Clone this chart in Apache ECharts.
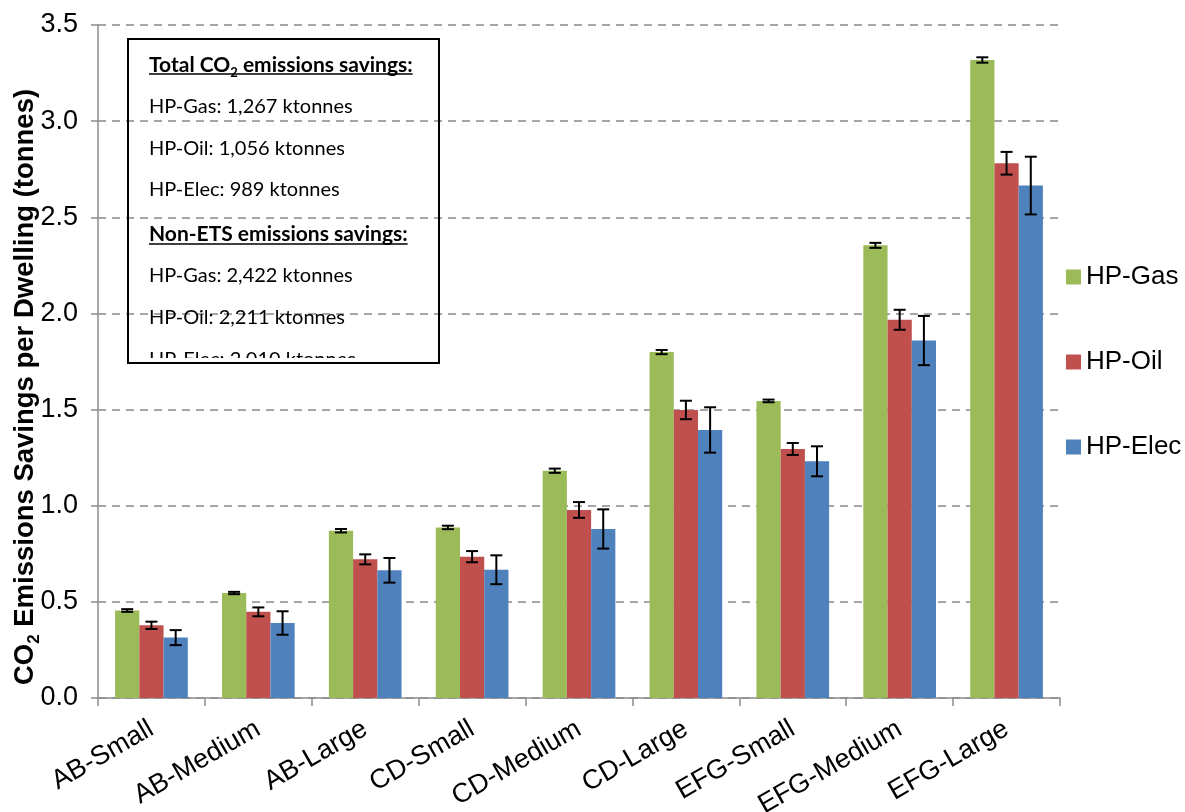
<!DOCTYPE html>
<html>
<head>
<meta charset="utf-8">
<script src="https://cdn.jsdelivr.net/npm/echarts@6/dist/echarts.min.js"></script>
<style>
  html, body { margin: 0; padding: 0; background: #ffffff; }
  #chart { width: 1185px; height: 812px; }
</style>
</head>
<body>
<div id="chart"></div>
<script>
// Dwelling categories on the x axis
const categories = ['AB-Small', 'AB-Medium', 'AB-Large', 'CD-Small', 'CD-Medium', 'CD-Large', 'EFG-Small', 'EFG-Medium', 'EFG-Large'];

// Mean CO2 savings per dwelling (tonnes) and their error half-widths
const gasValues  = [0.455, 0.546, 0.870, 0.887, 1.182, 1.799, 1.545, 2.354, 3.318];
const gasErrors  = [0.007, 0.006, 0.009, 0.009, 0.011, 0.011, 0.007, 0.013, 0.014];
const oilValues  = [0.378, 0.448, 0.721, 0.735, 0.978, 1.498, 1.295, 1.967, 2.781];
const oilErrors  = [0.019, 0.023, 0.026, 0.029, 0.041, 0.048, 0.031, 0.052, 0.059];
const elecValues = [0.314, 0.390, 0.664, 0.667, 0.879, 1.394, 1.231, 1.859, 2.665];
const elecErrors = [0.039, 0.061, 0.064, 0.075, 0.102, 0.118, 0.078, 0.128, 0.150];

const seriesNames = ['HP-Gas', 'HP-Oil', 'HP-Elec'];
const seriesColors = ['#9BBB59', '#C0504D', '#4F81BD'];

// Y axis range and tick step
const yMin = 0, yMax = 3.5, yStep = 0.5;

// Summary box text
const totalHeading = 'Total CO';
const totalHeadingTail = ' emissions savings:';
const totalSavings = ['HP-Gas: 1,267 ktonnes', 'HP-Oil: 1,056 ktonnes', 'HP-Elec: 989 ktonnes'];
const nonEtsHeading = 'Non-ETS emissions savings:';
const nonEtsSavings = ['HP-Gas: 2,422 ktonnes', 'HP-Oil: 2,211 ktonnes', 'HP-Elec: 2,010 ktonnes'];

const FONT = '"Liberation Sans", Arial, Helvetica, sans-serif';
const BOX_FONT = 'Lato, "Open Sans", sans-serif';
const CAT_GAP = 0.32;

const chart = echarts.init(document.getElementById('chart'), null, { renderer: 'canvas' });

// Measure text width for underlines in the summary box
const measureCtx = document.createElement('canvas').getContext('2d');
function textWidth(str, font) {
  measureCtx.font = font;
  return measureCtx.measureText(str).width;
}

function errorSeries(name, idx, values, errors) {
  return {
    type: 'custom',
    name: name + ' error',
    z: 10,
    silent: true,
    data: values.map((v, i) => [i, v, errors[i]]),
    encode: { x: 0, y: 1 },
    renderItem: function (params, api) {
      const i = api.value(0), v = api.value(1), e = api.value(2);
      const band = api.size([1, 0])[0];
      const bw = band * (1 - CAT_GAP) / 3;
      const cx = api.coord([i, v])[0] + (idx - 1) * bw;
      const yHi = api.coord([i, v + e])[1];
      const yLo = api.coord([i, v - e])[1];
      const half = 6;
      const style = { stroke: '#000000', lineWidth: 2 };
      return {
        type: 'group',
        children: [
          { type: 'line', shape: { x1: cx, y1: yHi, x2: cx, y2: yLo }, style: style },
          { type: 'line', shape: { x1: cx - half, y1: yHi, x2: cx + half, y2: yHi }, style: style },
          { type: 'line', shape: { x1: cx - half, y1: yLo, x2: cx + half, y2: yLo }, style: style }
        ]
      };
    }
  };
}

const valueSets = [gasValues, oilValues, elecValues];
const errorSets = [gasErrors, oilErrors, elecErrors];

const barSeries = seriesNames.map((name, k) => ({
  type: 'bar',
  name: name,
  data: valueSets[k],
  barGap: '0%',
  barCategoryGap: (CAT_GAP * 100) + '%',
  itemStyle: { color: seriesColors[k] },
  z: 2
}));
const errSeries = seriesNames.map((name, k) => errorSeries(name, k, valueSets[k], errorSets[k]));

// Summary box geometry
const box = { x: 128, y: 39, w: 311, h: 324 };
const textX = 149;
const lineYs = [64, 107, 149, 190, 234, 276, 318, 360];
const headFont = 'bold 21px ' + BOX_FONT;
const bodyFont = '20px ' + BOX_FONT;

const head1Width = textWidth(totalHeading, headFont) + textWidth('2', 'bold 13px ' + BOX_FONT) + textWidth(totalHeadingTail, headFont);
const head2Width = textWidth(nonEtsHeading, headFont);

const boxChildren = [
  { type: 'rect', shape: { x: box.x, y: box.y, width: box.w, height: box.h }, style: { fill: '#ffffff' }, z: 0 },
  {
    type: 'text', x: textX, y: lineYs[0], z: 1,
    style: {
      text: '{h|' + totalHeading + '}{s|2}{h|' + totalHeadingTail + '}',
      verticalAlign: 'middle', align: 'left',
      rich: {
        h: { fontFamily: BOX_FONT, fontSize: 21, fontWeight: 'bold', fill: '#000', lineHeight: 24, verticalAlign: 'bottom' },
        s: { fontFamily: BOX_FONT, fontSize: 13, fontWeight: 'bold', fill: '#000', lineHeight: 24, verticalAlign: 'bottom', padding: [0, 0, -3, 0] }
      }
    }
  },
  { type: 'line', z: 1, shape: { x1: textX, y1: lineYs[0] + 10, x2: textX + head1Width, y2: lineYs[0] + 10 }, style: { stroke: '#000', lineWidth: 1.5 } },
  { type: 'text', x: textX, y: lineYs[4], z: 1, style: { text: nonEtsHeading, font: headFont, fill: '#000', verticalAlign: 'middle' } },
  { type: 'line', z: 1, shape: { x1: textX, y1: lineYs[4] + 10, x2: textX + head2Width, y2: lineYs[4] + 10 }, style: { stroke: '#000', lineWidth: 1.5 } }
];
totalSavings.forEach((t, i) => boxChildren.push({ type: 'text', x: textX, y: lineYs[1 + i], z: 1, style: { text: t, font: bodyFont, fill: '#000', verticalAlign: 'middle' } }));
nonEtsSavings.forEach((t, i) => boxChildren.push({ type: 'text', x: textX, y: lineYs[5 + i], z: 1, style: { text: t, font: bodyFont, fill: '#000', verticalAlign: 'middle' } }));
// Text overflowing the box's inner margin is hidden, then the frame is drawn on top
boxChildren.push({ type: 'rect', z: 2, shape: { x: box.x - 2, y: box.y + box.h - 5, width: box.w + 4, height: 24 }, style: { fill: '#ffffff' } });
boxChildren.push({ type: 'rect', z: 3, shape: { x: box.x, y: box.y, width: box.w, height: box.h }, style: { fill: 'none', stroke: '#000', lineWidth: 2 } });

const option = {
  animation: false,
  backgroundColor: '#ffffff',
  textStyle: { fontFamily: FONT },
  grid: { left: 98, right: 125, top: 25, bottom: 114, containLabel: false, outerBoundsMode: 'none' },
  legend: {
    data: seriesNames,
    orient: 'vertical',
    left: 1066,
    top: 264,
    padding: 0,
    itemWidth: 15,
    itemHeight: 15,
    itemGap: 59,
    icon: 'rect',
    textStyle: { fontFamily: FONT, fontSize: 26, color: '#000' }
  },
  xAxis: {
    type: 'category',
    data: categories,
    axisLine: { lineStyle: { color: '#8c8c8c', width: 1.5 } },
    axisTick: { show: true, length: 8, lineStyle: { color: '#8c8c8c', width: 1.5 } },
    axisLabel: { interval: 0, rotate: 30, margin: 29, fontFamily: FONT, fontSize: 27, color: '#000' },
    splitLine: { show: false }
  },
  yAxis: {
    type: 'value',
    min: yMin, max: yMax, interval: yStep,
    axisLine: { show: true, lineStyle: { color: '#8c8c8c', width: 1.5 } },
    axisTick: { show: true, length: 7, lineStyle: { color: '#8c8c8c', width: 1.5 } },
    axisLabel: { margin: 20, fontFamily: FONT, fontSize: 27, color: '#000', formatter: v => v.toFixed(1) },
    splitLine: { show: true, lineStyle: { color: '#a6a6a6', width: 2, type: [8, 6] } }
  },
  graphic: [
    {
      type: 'text',
      x: 24, y: 387,
      rotation: Math.PI / 2,
      style: {
        text: '{b|CO}{s|2}{b| Emissions Savings per Dwelling (tonnes)}',
        align: 'center', verticalAlign: 'middle',
        rich: {
          b: { fontFamily: FONT, fontSize: 27.5, fontWeight: 'bold', fill: '#000', lineHeight: 30, verticalAlign: 'bottom' },
          s: { fontFamily: FONT, fontSize: 17, fontWeight: 'bold', fill: '#000', lineHeight: 30, verticalAlign: 'bottom', padding: [0, 0, -4, 0] }
        }
      }
    },
    { type: 'group', z: 100, children: boxChildren }
  ],
  series: barSeries.concat(errSeries)
};

chart.setOption(option);
</script>
</body>
</html>
